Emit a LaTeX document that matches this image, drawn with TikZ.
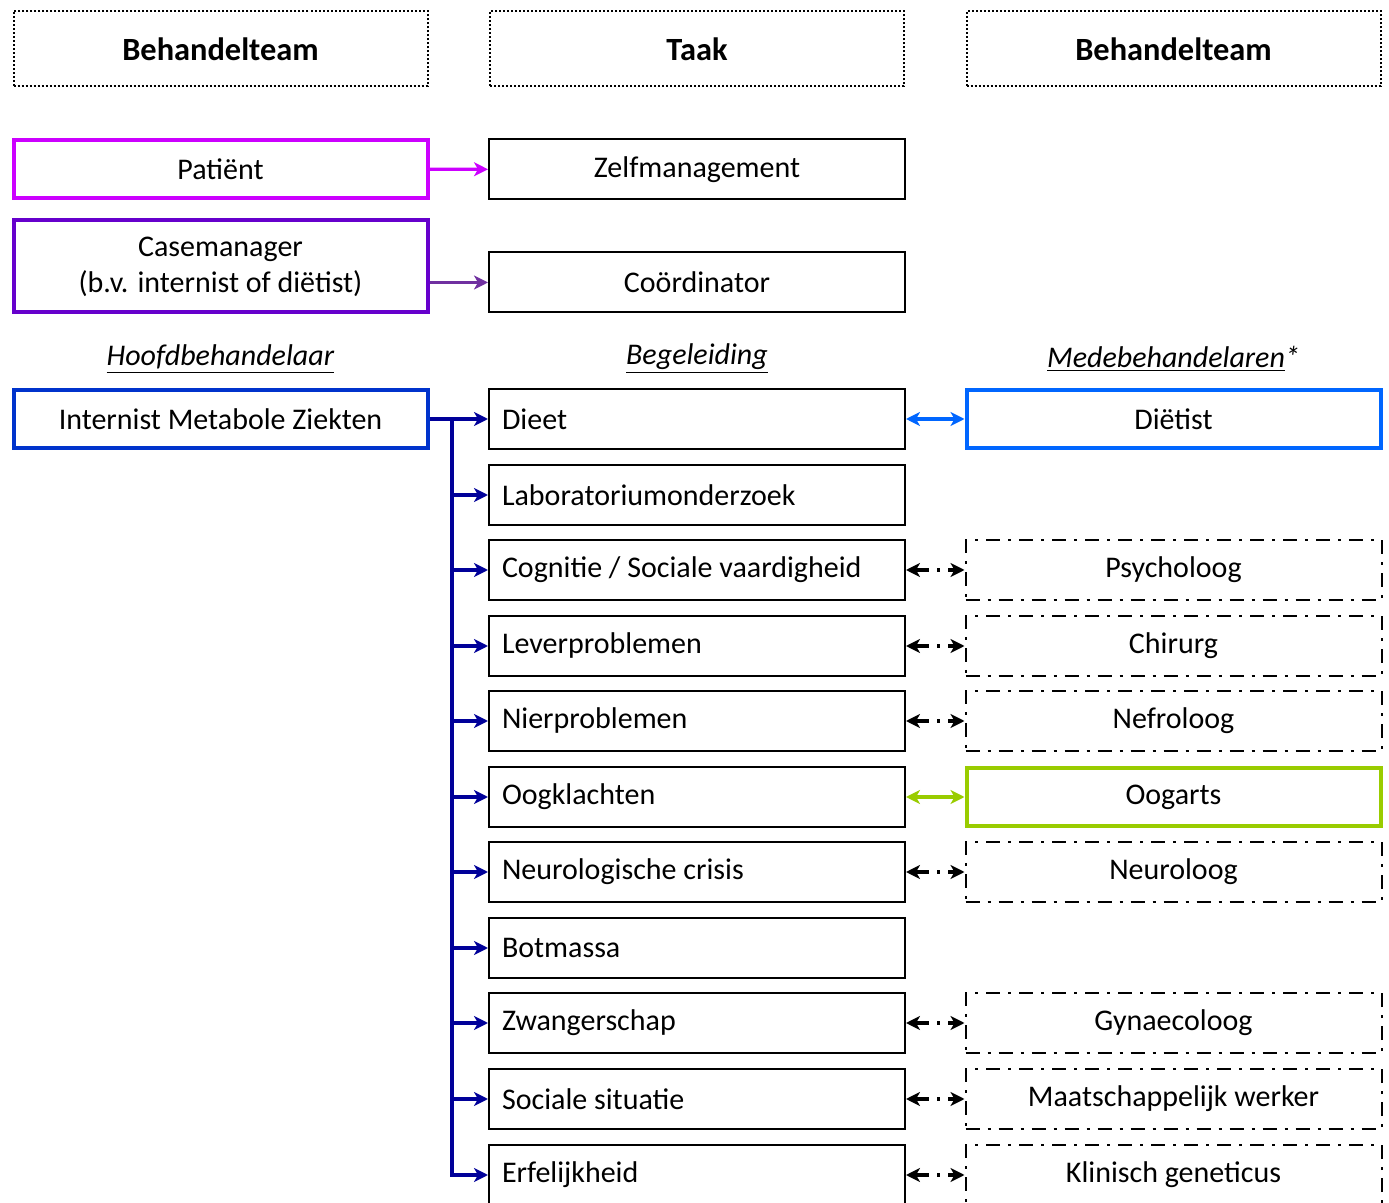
\documentclass[tikz,border=0pt]{standalone}
\usepackage{fontspec}
\setmainfont{Carlito}
\usepackage{tikz}
\usetikzlibrary{arrows.meta}
\definecolor{ptmagenta}{RGB}{204,0,255}
\definecolor{cmpurple}{RGB}{102,0,204}
\definecolor{cmarrow}{RGB}{112,48,160}
\definecolor{imblue}{RGB}{0,51,204}
\definecolor{imarrow}{RGB}{0,0,153}
\definecolor{dtblue}{RGB}{0,102,255}
\definecolor{oggreen}{RGB}{153,204,0}

\begin{document}
\begin{tikzpicture}[x=0.5pt,y=-0.5pt,
  every node/.style={font=\fontsize{15pt}{18pt}\selectfont},
  headbox/.style={draw,line width=1pt,dash pattern=on 1pt off 1pt,minimum width=207pt,minimum height=37.5pt,font=\fontsize{16.2pt}{18pt}\selectfont\bfseries},
  rolebox/.style={draw,line width=2pt,minimum width=207pt,minimum height=29pt},
  taskbox/.style={draw,line width=1pt,minimum width=208pt,minimum height=30pt},
  leftbox/.style={taskbox,text width=195pt,inner xsep=6.5pt,align=flush left},
  mededash/.style={draw,line width=1pt,dash pattern=on 7pt off 4pt on 1.5pt off 4pt,minimum width=208pt,minimum height=30pt},
  arr/.style={line width=1.6pt,-{Stealth[length=7pt,width=7pt,inset=2pt]}},
  twoway/.style={line width=1.6pt,{Stealth[length=7pt,width=7pt,inset=2pt]}-{Stealth[length=7pt,width=7pt,inset=2pt]}},
  dashtwoway/.style={twoway,dash pattern=on 7pt off 4pt on 1.5pt off 4pt}]
\useasboundingbox (0,0) rectangle (1389,1203);

% Headers
\node[headbox] (head1) at (220.5,49) {Behandelteam};
\node[headbox] (head2) at (697,49) {Taak};
\node[headbox] (head3) at (1173.5,49) {Behandelteam};

% Patient and casemanager
\node[rolebox,draw=ptmagenta] (patient) at (220.5,169) {Patiënt};
\node[taskbox] (zelf) at (697,169.5) {Zelfmanagement};
\node[rolebox,draw=cmpurple,minimum height=46pt,align=center] (casemgr) at (220.5,266.5) {Casemanager\\(b.v. internist of diëtist)};
\node[taskbox] (coord) at (697,282.5) {Coördinator};
\draw[arr,ptmagenta] (patient) -- (zelf);
\draw[arr,cmarrow] (casemgr.east|-coord) -- (coord);

% Column titles
\node (hoofd) at (220.5,359) {\underline{\textit{Hoofdbehandelaar}}};
\node (begel) at (697,359) {\underline{\textit{Begeleiding}}};
\node (mede) at (1173.5,359) {\underline{\textit{Medebehandelaren}}\textit{*}};

% Hoofdbehandelaar
\node[rolebox,draw=imblue] (internist) at (220.5,419) {Internist Metabole Ziekten};

% Taken
\node[leftbox] (dieet) at (697,419) {Dieet};
\node[leftbox] (labo) at (697,495) {Laboratoriumonderzoek};
\node[leftbox] (cogn) at (697,570) {Cognitie / Sociale vaardigheid};
\node[leftbox] (lever) at (697,646) {Leverproblemen};
\node[leftbox] (nier) at (697,721) {Nierproblemen};
\node[leftbox] (oog) at (697,797) {Oogklachten};
\node[leftbox] (neuro) at (697,872) {Neurologische crisis};
\node[leftbox] (bot) at (697,948) {Botmassa};
\node[leftbox] (zwanger) at (697,1023) {Zwangerschap};
\node[leftbox] (sociaal) at (697,1099) {Sociale situatie};
\node[leftbox] (erf) at (697,1175) {Erfelijkheid};

% Medebehandelaren
\node[rolebox,draw=dtblue] (dietist) at (1173.5,419) {Diëtist};
\node[mededash] (psycho) at (1173.5,570) {Psycholoog};
\node[mededash] (chirurg) at (1173.5,646) {Chirurg};
\node[mededash] (nefro) at (1173.5,721) {Nefroloog};
\node[rolebox,draw=oggreen] (oogarts) at (1173.5,797) {Oogarts};
\node[mededash] (neurol) at (1173.5,872) {Neuroloog};
\node[mededash] (gyn) at (1173.5,1023) {Gynaecoloog};
\node[mededash] (maatsch) at (1173.5,1099) {Maatschappelijk werker};
\node[mededash] (klin) at (1173.5,1175) {Klinisch geneticus};

% Verbindingen
\coordinate (split) at (452,419);
\draw[arr,imarrow] (internist) -- (dieet);
\foreach \t in {labo,cogn,lever,nier,oog,neuro,bot,zwanger,sociaal,erf}
  \draw[arr,imarrow] (split) |- (\t.west);
\draw[twoway,dtblue] (dieet) -- (dietist);
\draw[twoway,oggreen] (oog) -- (oogarts);
\draw[dashtwoway] (cogn) -- (psycho);
\draw[dashtwoway] (lever) -- (chirurg);
\draw[dashtwoway] (nier) -- (nefro);
\draw[dashtwoway] (neuro) -- (neurol);
\draw[dashtwoway] (zwanger) -- (gyn);
\draw[dashtwoway] (sociaal) -- (maatsch);
\draw[dashtwoway] (erf) -- (klin);
\end{tikzpicture}
\end{document}
